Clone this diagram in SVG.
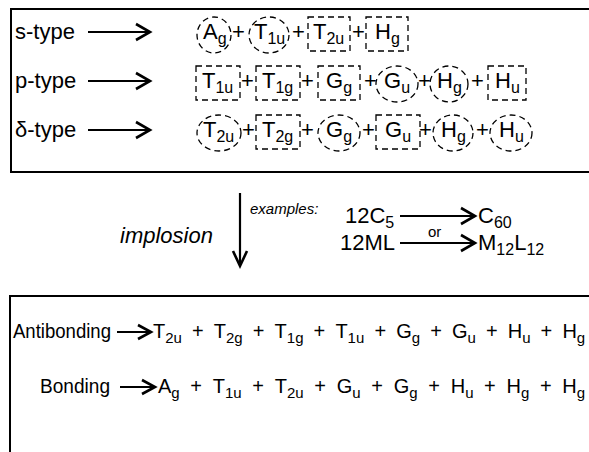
<svg xmlns="http://www.w3.org/2000/svg" width="589" height="452" viewBox="0 0 589 452">
<style>
text{font-family:"Liberation Sans",Arial,sans-serif;font-size:22px;fill:#000}
.sub{font-size:16px}
.it{font-style:italic}
.sm{font-size:15px}
.lo{font-size:20px}
.lo .sub{font-size:15px}
.frame{fill:none;stroke:#000;stroke-width:2}
.dash{fill:none;stroke:#000;stroke-width:1.3;stroke-dasharray:6 4}
.arr{fill:none;stroke:#000;stroke-width:2.2}
.head{fill:none;stroke:#000;stroke-width:2.6;stroke-linejoin:miter}
</style>
<rect width="589" height="452" fill="#fff"/>
<g id="frames">
<path class="frame" d="M589,9 H11 V172 H589"/>
<path class="frame" d="M589,296 H10 V452"/>
</g>
<g id="connectors">
<path class="arr" d="M88,32 H149"/><path class="head" d="M136,24 L150,32 L136,40"/>
<path class="arr" d="M88,81 H149"/><path class="head" d="M136,73 L150,81 L136,89"/>
<path class="arr" d="M88,130 H149"/><path class="head" d="M136,122 L150,130 L136,138"/>
<path class="arr" d="M240,193 V264"/><path class="head" d="M233,251 L240,266 L247,251"/>
<path class="arr" d="M400,216 H474"/><path class="head" d="M461,208 L475,216 L461,224"/>
<path class="arr" d="M400,243 H474"/><path class="head" d="M461,235 L475,243 L461,251"/>
<path class="arr" d="M117,332 H150"/><path class="head" d="M138,325 L151,332 L138,339"/>
<path class="arr" d="M120,387 H154"/><path class="head" d="M142,380 L155,387 L142,394"/>
</g>
<g id="s-type">
<text x="15" y="39">s-type</text>
<ellipse class="dash" cx="214" cy="35" rx="17" ry="18"/>
<text x="203" y="39">A<tspan class="sub" dy="5">g</tspan></text>
<text x="232" y="39">+</text>
<ellipse class="dash" cx="269" cy="35" rx="20" ry="18"/>
<text x="254" y="39">T<tspan class="sub" dy="5">1u</tspan></text>
<text x="292" y="39">+</text>
<rect class="dash" x="308" y="17" width="42" height="34"/>
<text x="313" y="39">T<tspan class="sub" dy="5">2u</tspan></text>
<text x="352" y="39">+</text>
<rect class="dash" x="366" y="17" width="42" height="34"/>
<text x="375" y="39">H<tspan class="sub" dy="5">g</tspan></text>
</g>
<g id="p-type">
<text x="15" y="88">p-type</text>
<rect class="dash" x="196" y="66" width="44" height="34"/>
<text x="202" y="88">T<tspan class="sub" dy="5">1u</tspan></text>
<text x="241" y="88">+</text>
<rect class="dash" x="256" y="66" width="44" height="34"/>
<text x="262" y="88">T<tspan class="sub" dy="5">1g</tspan></text>
<text x="301" y="88">+</text>
<rect class="dash" x="318" y="66" width="42" height="34"/>
<text x="326" y="88">G<tspan class="sub" dy="5">g</tspan></text>
<text x="364" y="88">+</text>
<ellipse class="dash" cx="397" cy="84" rx="21" ry="18"/>
<text x="384" y="88">G<tspan class="sub" dy="5">u</tspan></text>
<text x="418" y="88">+</text>
<ellipse class="dash" cx="449" cy="84" rx="19" ry="18"/>
<text x="437" y="88">H<tspan class="sub" dy="5">g</tspan></text>
<text x="471" y="88">+</text>
<rect class="dash" x="488" y="66" width="38" height="34"/>
<text x="495" y="88">H<tspan class="sub" dy="5">u</tspan></text>
</g>
<g id="d-type">
<text x="15" y="137">δ-type</text>
<ellipse class="dash" cx="219" cy="133" rx="22" ry="18"/>
<text x="203" y="137">T<tspan class="sub" dy="5">2u</tspan></text>
<text x="242" y="137">+</text>
<rect class="dash" x="256" y="115" width="44" height="34"/>
<text x="262" y="137">T<tspan class="sub" dy="5">2g</tspan></text>
<text x="301" y="137">+</text>
<ellipse class="dash" cx="339" cy="133" rx="21" ry="18"/>
<text x="326" y="137">G<tspan class="sub" dy="5">g</tspan></text>
<text x="362" y="137">+</text>
<rect class="dash" x="376" y="115" width="44" height="34"/>
<text x="385" y="137">G<tspan class="sub" dy="5">u</tspan></text>
<text x="419" y="137">+</text>
<ellipse class="dash" cx="453" cy="133" rx="20" ry="18"/>
<text x="441" y="137">H<tspan class="sub" dy="5">g</tspan></text>
<text x="476" y="137">+</text>
<ellipse class="dash" cx="511" cy="133" rx="21" ry="18"/>
<text x="499" y="137">H<tspan class="sub" dy="5">u</tspan></text>
</g>
<g id="implosion">
<text class="it" x="120" y="243">implosion</text>
<text class="it sm" x="250" y="214">examples:</text>
<text x="345" y="223">12C<tspan class="sub" dy="5">5</tspan></text>
<text x="478" y="223">C<tspan class="sub" dy="5">60</tspan></text>
<text class="sm" x="428" y="237">or</text>
<text x="340" y="250">12ML</text>
<text x="478" y="250">M<tspan class="sub" dy="5">12</tspan><tspan dy="-5">L</tspan><tspan class="sub" dy="5">12</tspan></text>
</g>
<g id="antibonding" class="lo">
<text class="lo" x="13" y="338" textLength="98" lengthAdjust="spacingAndGlyphs">Antibonding</text>
<text class="lo" x="153" y="338">T<tspan class="sub" dy="5">2u</tspan></text>
<text class="lo" x="192" y="338">+</text>
<text class="lo" x="213.8" y="338">T<tspan class="sub" dy="5">2g</tspan></text>
<text class="lo" x="252.8" y="338">+</text>
<text class="lo" x="274.6" y="338">T<tspan class="sub" dy="5">1g</tspan></text>
<text class="lo" x="313.6" y="338">+</text>
<text class="lo" x="335.4" y="338">T<tspan class="sub" dy="5">1u</tspan></text>
<text class="lo" x="374.4" y="338">+</text>
<text class="lo" x="396.2" y="338">G<tspan class="sub" dy="5">g</tspan></text>
<text class="lo" x="430.2" y="338">+</text>
<text class="lo" x="452" y="338">G<tspan class="sub" dy="5">u</tspan></text>
<text class="lo" x="486" y="338">+</text>
<text class="lo" x="507.8" y="338">H<tspan class="sub" dy="5">u</tspan></text>
<text class="lo" x="540.6" y="338">+</text>
<text class="lo" x="562.4" y="338">H<tspan class="sub" dy="5">g</tspan></text>
</g>
<g id="bonding" class="lo">
<text class="lo" x="40" y="393" textLength="70" lengthAdjust="spacingAndGlyphs">Bonding</text>
<text class="lo" x="158" y="393">A<tspan class="sub" dy="5">g</tspan></text>
<text class="lo" x="190.3" y="393">+</text>
<text class="lo" x="212.7" y="393">T<tspan class="sub" dy="5">1u</tspan></text>
<text class="lo" x="252.3" y="393">+</text>
<text class="lo" x="274.7" y="393">T<tspan class="sub" dy="5">2u</tspan></text>
<text class="lo" x="314.3" y="393">+</text>
<text class="lo" x="336.7" y="393">G<tspan class="sub" dy="5">u</tspan></text>
<text class="lo" x="371.3" y="393">+</text>
<text class="lo" x="393.7" y="393">G<tspan class="sub" dy="5">g</tspan></text>
<text class="lo" x="428.3" y="393">+</text>
<text class="lo" x="450.7" y="393">H<tspan class="sub" dy="5">u</tspan></text>
<text class="lo" x="484.1" y="393">+</text>
<text class="lo" x="506.5" y="393">H<tspan class="sub" dy="5">g</tspan></text>
<text class="lo" x="539.9" y="393">+</text>
<text class="lo" x="562.3" y="393">H<tspan class="sub" dy="5">g</tspan></text>
</g>
</svg>
